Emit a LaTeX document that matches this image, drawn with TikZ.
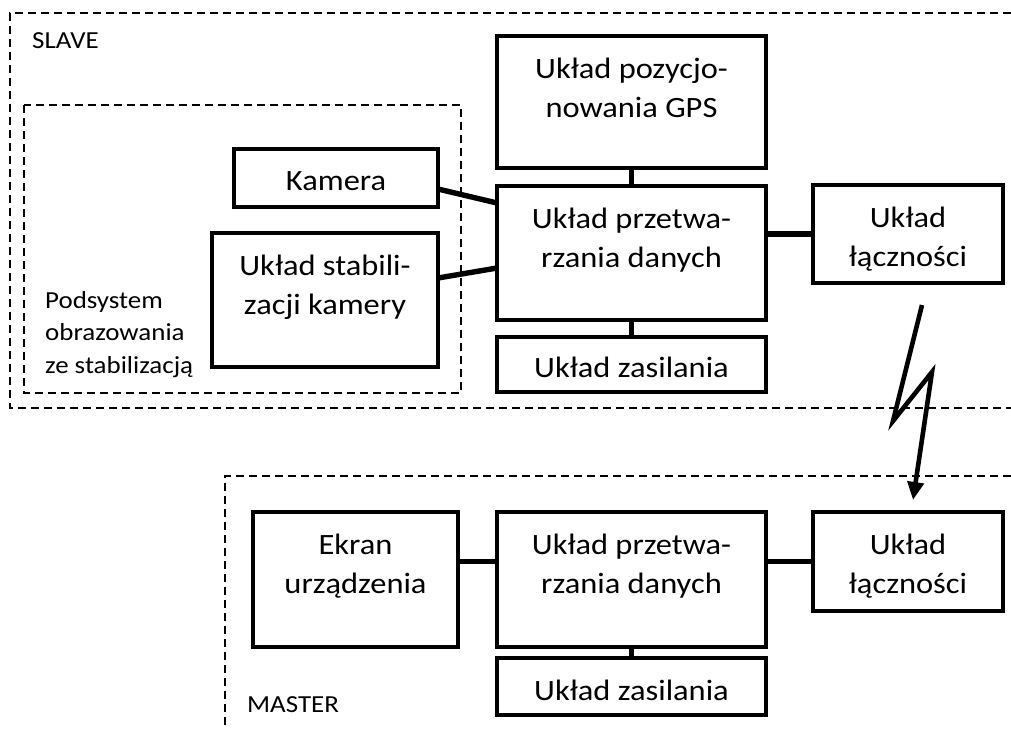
\documentclass[tikz,border=0pt]{standalone}
\usepackage{fontspec}
\setmainfont{Carlito}[FakeStretch=1.1]
\usetikzlibrary{arrows.meta}
\begin{document}
\begin{tikzpicture}[x=1pt,y=-1pt,
  box/.style={draw, line width=4.6pt, inner sep=0pt, outer sep=0pt, anchor=north west},
  btxt/.style={font=\fontsize{29.5}{39.5}\selectfont, align=center, inner sep=0pt, anchor=north},
  stxt/.style={font=\fontsize{24.5}{32.5}\selectfont, inner sep=0pt},
  conn/.style={line width=5.4pt},
  frame/.style={dash pattern=on 8pt off 5pt, line width=1.8pt},
  bolt/.style={line width=4.6pt, -{Triangle[length=18pt,width=16pt]}}
]
\useasboundingbox (0,0) rectangle (1011,729);

% dashed frames
\draw[frame] (1011,13) -- (10,13) -- (10,408) -- (1011,408);
\draw[frame] (24,105) rectangle (461,393);
\draw[frame] (1011,476) -- (225,476) -- (225,729);

% SLAVE boxes
\node[box, minimum width=269pt, minimum height=132pt] (gps) at (497,36) {};
\node[box, minimum width=269pt, minimum height=134pt] (procS) at (497,186) {};
\node[box, minimum width=269pt, minimum height=55pt] (zasS) at (497,337) {};
\node[box, minimum width=190pt, minimum height=98pt] (lnkS) at (813,185) {};
\node[box, minimum width=204pt, minimum height=58pt] (kam) at (234,149) {};
\node[box, minimum width=226pt, minimum height=134pt] (stab) at (212,233) {};

% MASTER boxes
\node[box, minimum width=205pt, minimum height=135pt] (ekran) at (253,512) {};
\node[box, minimum width=269pt, minimum height=135pt] (procM) at (497,512) {};
\node[box, minimum width=269pt, minimum height=57pt] (zasM) at (497,658) {};
\node[box, minimum width=190pt, minimum height=99pt] (lnkM) at (813,512) {};

% box texts
\node[btxt] (gpsT) at ([yshift=-14.35pt]gps.north) {\strut Układ pozycjo-\\nowania GPS};
\node[btxt] (procST) at ([yshift=-14.35pt]procS.north) {\strut Układ przetwa-\\rzania danych};
\node[btxt] (zasST) at ([yshift=-12.35pt]zasS.north) {\strut Układ zasilania};
\node[btxt] (lnkST) at ([yshift=-14.35pt]lnkS.north) {\strut Układ\\łączności};
\node[btxt] (kamT) at ([yshift=-13.35pt]kam.north) {\strut Kamera};
\node[btxt] (stabT) at ([yshift=-14.35pt]stab.north) {\strut Układ stabili-\\zacji kamery};
\node[btxt] (ekranT) at ([yshift=-14.35pt]ekran.north) {\strut Ekran\\urządzenia};
\node[btxt] (procMT) at ([yshift=-14.35pt]procM.north) {\strut Układ przetwa-\\rzania danych};
\node[btxt] (zasMT) at ([yshift=-14.35pt]zasM.north) {\strut Układ zasilania};
\node[btxt] (lnkMT) at ([yshift=-14.35pt]lnkM.north) {\strut Układ\\łączności};

% labels
\node[stxt, anchor=base west] (slave) at (32,48) {SLAVE};
\node[stxt, anchor=north west, align=left] (pod) at (45,285.25) {\strut Podsystem\\obrazowania\\ze stabilizacją};
\node[stxt, anchor=base west] (master) at (247,712) {MASTER};

% connectors SLAVE
\draw[conn] (gps.south) -- (procS.north);
\draw[conn] (procS.south) -- (zasS.north);
\draw[conn] (procS.east |- lnkS.west) -- (lnkS.west);
\draw[conn] ([yshift=-11pt]kam.east) -- ([yshift=50pt]procS.west);
\draw[conn] ([yshift=22pt]stab.east) -- ([yshift=-15pt]procS.west);

% connectors MASTER
\draw[conn] (ekran.east |- lnkM.west) -- (procM.west |- lnkM.west);
\draw[conn] (procM.east |- lnkM.west) -- (lnkM.west);
\draw[conn] (procM.south) -- (zasM.north);

% radio link (lightning)
\coordinate (b1) at (922,305);
\coordinate (b2) at (893,421);
\coordinate (b3) at (932,372);
\coordinate (b4) at (913,500);
\draw[bolt] (b1) -- (b2) -- (b3) -- (b4);
\end{tikzpicture}
\end{document}
